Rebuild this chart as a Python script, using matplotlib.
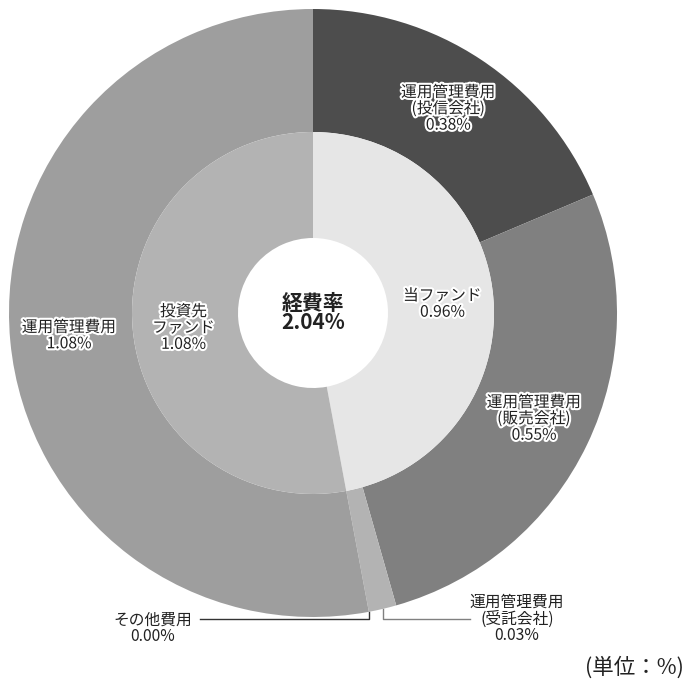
import matplotlib
matplotlib.use("Agg")
import matplotlib.pyplot as plt
import matplotlib.patheffects as pe
import numpy as np

plt.rcParams['font.family'] = ['Noto Sans CJK JP', 'DejaVu Sans']

# outer ring: breakdown of fees (clockwise from top)
outer_labels = ["運用管理費用\n(投信会社)", "運用管理費用\n(販売会社)", "運用管理費用\n(受託会社)",
                "その他費用", "運用管理費用"]
outer_values = [0.38, 0.55, 0.03, 0.00, 1.08]
outer_colors = ["#4d4d4d", "#808080", "#b3b3b3", "#b3b3b3", "#9e9e9e"]

# inner ring
inner_labels = ["当ファンド", "投資先\nファンド"]
inner_values = [0.96, 1.08]
inner_colors = ["#e6e6e6", "#b3b3b3"]

total_label = "経費率"
total_value = 2.04
unit_text = "(単位：%)"

W, H = 689, 685
cx, cy = 313, H - 313
r_out, r_mid, r_hole = 304, 181, 75
txt_color = "#222222"
outline = [pe.withStroke(linewidth=3, foreground="white")]

fig = plt.figure(figsize=(W / 100, H / 100), dpi=100)
ax = fig.add_axes([0, 0, 1, 1])

w_out, _ = ax.pie(outer_values, radius=r_out, center=(cx, cy), startangle=90,
                  counterclock=False, colors=outer_colors,
                  wedgeprops=dict(width=r_out - r_mid, linewidth=0))
w_in, _ = ax.pie(inner_values, radius=r_mid, center=(cx, cy), startangle=90,
                 counterclock=False, colors=inner_colors,
                 wedgeprops=dict(width=r_mid - r_hole, linewidth=0))

ax.set_xlim(0, W)
ax.set_ylim(0, H)
ax.set_aspect('equal')
ax.axis('off')


def polar(theta, r):
    t = np.deg2rad(theta)
    return cx + r * np.cos(t), cy + r * np.sin(t)


def mid_angle(w):
    return (w.theta1 + w.theta2) / 2


# labels inside the rings
for i in [0, 1, 4]:
    x, y = polar(mid_angle(w_out[i]), 245)
    ax.text(x, y, f"{outer_labels[i]}\n{outer_values[i]:.2f}%", ha='center', va='center',
            fontsize=11.3, linespacing=0.95, color=txt_color, path_effects=outline)
for i in range(2):
    x, y = polar(mid_angle(w_in[i]), 130)
    ax.text(x, y - 3, f"{inner_labels[i]}\n{inner_values[i]:.2f}%", ha='center', va='center',
            fontsize=11.3, linespacing=0.95, color=txt_color, path_effects=outline)

# callouts for the small slices
elbow_y = H - 619
# 受託会社
x0, y0 = polar(mid_angle(w_out[2]), r_out)
ax.plot([x0, x0, 470], [y0, elbow_y, elbow_y], color="#808080", lw=1)
ax.text(517, H - 619, f"{outer_labels[2]}\n{outer_values[2]:.2f}%", ha='center', va='center',
        fontsize=11.3, linespacing=0.95, color=txt_color)
# その他費用
x0, y0 = polar(w_out[3].theta1, r_out)
ax.plot([x0, x0, 200], [y0, elbow_y, elbow_y], color="#333333", lw=1)
ax.text(153, H - 628, f"{outer_labels[3]}\n{outer_values[3]:.2f}%", ha='center', va='center',
        fontsize=11.3, linespacing=0.95, color=txt_color)

# centre
ax.text(cx, cy, f"{total_label}\n{total_value:.2f}%", ha='center', va='center',
        fontsize=15, fontweight='bold', linespacing=0.9, color=txt_color)

ax.text(684, H - 668, unit_text, ha='right', va='center', fontsize=15.5, color=txt_color)

fig.savefig("out.png", dpi=100)
